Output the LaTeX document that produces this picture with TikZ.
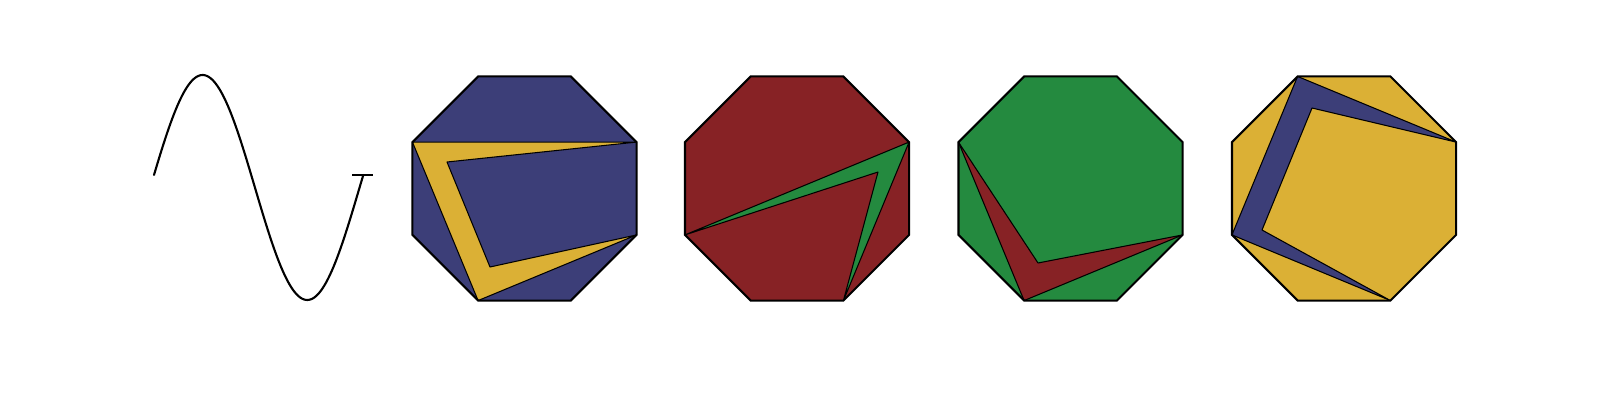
\documentclass[tikz,border=0pt]{standalone}
\usepackage{tikz}
\usetikzlibrary{calc}
\usepackage{xcolor}
\definecolor{tilblue}{HTML}{3C3E78}
\definecolor{tilgold}{HTML}{DBB035}
\definecolor{tilred}{HTML}{872225}
\definecolor{tilgreen}{HTML}{248A3F}

\begin{document}
\begin{tikzpicture}[x=0.01cm, y=-0.01cm,
  wave/.style={line width=0.6pt, line cap=round},
  octa/.style={line width=0.6pt, line join=miter},
  inset/.style={line width=0.3pt, line join=round}
]
  \useasboundingbox (0,0) rectangle (1600,409);

  % the wave
  \draw[wave] plot[domain=6.4:366.4, samples=120, smooth]
    ({154+(\x-6.4)/360*209.3}, {187.5-112.5*sin(\x)});
  \draw[line width=0.5pt] (352,175) -- (373,175);

  % corners of the four octagons
  \foreach \cx/\n in {524.5/a, 797/b, 1070.5/c, 1344/d}
    \foreach \k in {0,...,7}
      \coordinate (\n\k) at ({\cx+121.3*cos(22.5+45*\k)}, {188.5-121.3*sin(22.5+45*\k)});

  % blue, gold inset
  \fill[tilblue] (a0) -- (a1) -- (a2) -- (a3) -- (a4) -- (a5) -- (a6) -- (a7) -- cycle;
  \draw[inset, fill=tilgold] (a3) -- (a0) -- (447,162) -- (490,267) -- (a7) -- (a5) -- cycle;
  \draw[octa] (a0) -- (a1) -- (a2) -- (a3) -- (a4) -- (a5) -- (a6) -- (a7) -- cycle;

  % red, green inset
  \fill[tilred] (b0) -- (b1) -- (b2) -- (b3) -- (b4) -- (b5) -- (b6) -- (b7) -- cycle;
  \draw[inset, fill=tilgreen] (b4) -- (b0) -- (b6) -- (878,172) -- cycle;
  \draw[octa] (b0) -- (b1) -- (b2) -- (b3) -- (b4) -- (b5) -- (b6) -- (b7) -- cycle;

  % green, red inset
  \fill[tilgreen] (c0) -- (c1) -- (c2) -- (c3) -- (c4) -- (c5) -- (c6) -- (c7) -- cycle;
  \draw[inset, fill=tilred] (c3) -- (1038,263) -- (c7) -- (c5) -- cycle;
  \draw[octa] (c0) -- (c1) -- (c2) -- (c3) -- (c4) -- (c5) -- (c6) -- (c7) -- cycle;

  % gold, blue inset
  \fill[tilgold] (d0) -- (d1) -- (d2) -- (d3) -- (d4) -- (d5) -- (d6) -- (d7) -- cycle;
  \draw[inset, fill=tilblue] (d2) -- (d0) -- (1312,108) -- (1262,230) -- (d6) -- (d4) -- cycle;
  \draw[octa] (d0) -- (d1) -- (d2) -- (d3) -- (d4) -- (d5) -- (d6) -- (d7) -- cycle;
\end{tikzpicture}
\end{document}
